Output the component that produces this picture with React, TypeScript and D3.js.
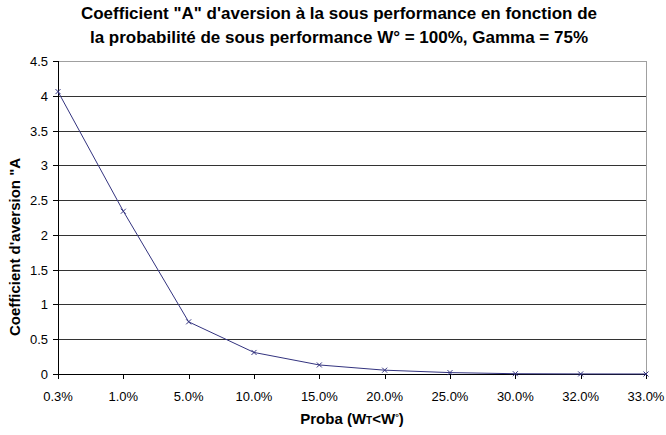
import React from "react";
import * as d3 from "d3";

const categories = ["0.3%", "1.0%", "5.0%", "10.0%", "15.0%", "20.0%", "25.0%", "30.0%", "32.0%", "33.0%"];
const values = [4.06, 2.34, 0.75, 0.31, 0.13, 0.055, 0.02, 0.004, 0.001, 0.0];
const yTicks = [0, 0.5, 1, 1.5, 2, 2.5, 3, 3.5, 4, 4.5];
const titleLines = [
  "Coefficient \"A\" d'aversion à la sous performance en fonction de",
  "la probabilité de sous performance W° = 100%, Gamma = 75%",
];

const W = 666;
const H = 435;
const left = 58;
const right = 646;
const top = 61;
const bottom = 374;
const font = "Liberation Sans, Arial, sans-serif";

export default function App() {
  const x = d3.scalePoint<string>().domain(categories).range([left, right]);
  const y = d3.scaleLinear().domain([0, 4.5]).range([bottom, top]);
  const line = d3
    .line<number>()
    .x((_, i) => x(categories[i]) as number)
    .y((d) => y(d));
  const lineColor = "#33337f";
  return (
    <svg
      width={W}
      height={H}
      style={{ position: "absolute", left: 0, top: 0, background: "#fff" }}
      fontFamily={font}
    >
      {titleLines.map((t, i) => (
        <text key={i} x={339} y={19 + i * 23.5} textAnchor="middle" fontSize={17} fontWeight="bold" fill="#000">
          {t}
        </text>
      ))}
      {yTicks.map((t) => (
        <g key={t}>
          <line
            x1={left}
            x2={right}
            y1={Math.round(y(t)) + 0.5}
            y2={Math.round(y(t)) + 0.5}
            stroke={t === 4.5 ? "#a0a0a0" : t === 0 ? "#000" : "#333"}
            strokeWidth={1}
          />
          <line x1={left - 5} x2={left} y1={Math.round(y(t)) + 0.5} y2={Math.round(y(t)) + 0.5} stroke="#000" />
          <text x={left - 10} y={y(t) + 5} textAnchor="end" fontSize={13} fill="#000">
            {String(t)}
          </text>
        </g>
      ))}
      <line x1={right + 0.5} x2={right + 0.5} y1={top} y2={bottom} stroke="#a0a0a0" />
      <line x1={left + 0.5} x2={left + 0.5} y1={top} y2={bottom + 1} stroke="#000" />
      {categories.map((c) => (
        <g key={c}>
          <line
            x1={Math.round(x(c) as number) + 0.5}
            x2={Math.round(x(c) as number) + 0.5}
            y1={bottom}
            y2={bottom + 5}
            stroke="#000"
          />
          <text x={x(c)} y={401} textAnchor="middle" fontSize={13} fill="#000">
            {c}
          </text>
        </g>
      ))}
      <path d={line(values) || ""} fill="none" stroke={lineColor} strokeWidth={1} />
      {values.map((v, i) => {
        const cx = x(categories[i]) as number;
        const cy = y(v);
        return (
          <g key={i} stroke={lineColor} strokeWidth={1}>
            <line x1={cx - 2.5} x2={cx + 2.5} y1={cy - 2.5} y2={cy + 2.5} />
            <line x1={cx - 2.5} x2={cx + 2.5} y1={cy + 2.5} y2={cy - 2.5} />
          </g>
        );
      })}
      <text
        transform={`translate(20, 247) rotate(-90)`}
        textAnchor="middle"
        fontSize={15}
        fontWeight="bold"
        fill="#000"
      >
        Coefficient d'aversion "A
      </text>
      <text x={352} y={424} textAnchor="middle" fontSize={15} fontWeight="bold" fill="#000">
        Proba (W<tspan fontSize={10}>T</tspan>&lt;W<tspan fontSize={9} dy={-4}>°</tspan>
        <tspan dy={4}>)</tspan>
      </text>
    </svg>
  );
}
